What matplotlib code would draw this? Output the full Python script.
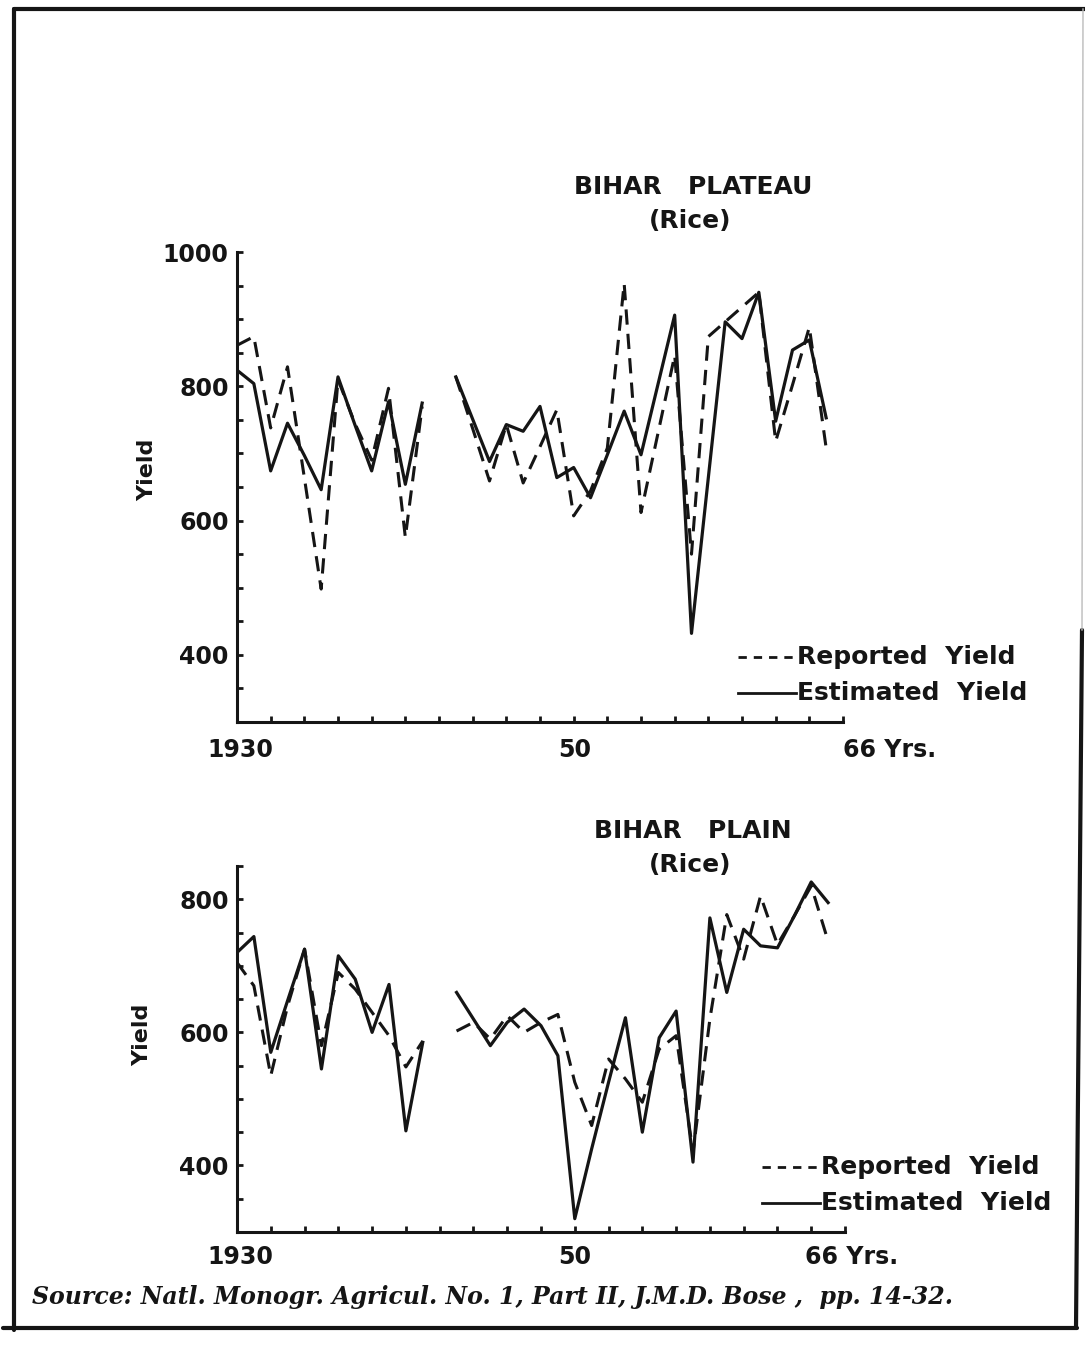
import numpy as np
import matplotlib
matplotlib.use('Agg')
import matplotlib.pyplot as plt
from matplotlib.lines import Line2D

# ---- data (yield, 1930-1965) ----
years = np.arange(1930, 1966)
nan = np.nan

plateau_reported = [861, 874, 738, 829, 664, 498, 810, 745, 690, 797, 575, 770, nan,
                    814, 737, 659, 743, 656, 710, 765, 607, 644, 708, 953, 612, 729,
                    846, 550, 874, 896, 918, 940, 718, 802, 888, 708]
plateau_estimated = [824, 804, 674, 745, 697, 646, 814, 743, 674, 777, 654, 775, nan,
                     814, 751, 688, 743, 733, 770, 664, 679, 634, 698, 763, 698, 802,
                     906, 432, 664, 896, 871, 940, 748, 854, 869, 753]

plain_reported = [705, 670, 535, 640, 725, 580, 690, 665, 630, 595, 548, 587, nan,
                  602, 615, 590, 625, 600, 615, 627, 525, 460, 560, 530, 495, 575,
                  595, 420, 620, 777, 710, 805, 732, 775, 820, 737]
plain_estimated = [720, 744, 570, 648, 725, 545, 715, 680, 600, 672, 452, 585, nan,
                   660, 620, 580, 615, 635, 610, 565, 320, 425, 525, 622, 450, 592,
                   632, 405, 772, 660, 755, 730, 727, 775, 826, 795]

W, H = 1085, 1347
INK = '#151515'
FONT = 'DejaVu Sans'


def fx(px):
    return px / W


def fy(py):
    return 1 - py / H


fig = plt.figure(figsize=(W / 100, H / 100), dpi=100)
fig.patch.set_facecolor('white')


def draw_panel(rect, reported, estimated, ylim, ylabels, title_y, legend_y, legend_x,
               lab_y, yrs_x, ylab_x, ylab_y, title):
    ax = fig.add_axes(rect)
    ax.plot(years, reported, color=INK, lw=2.2, linestyle=(0, (5, 3)))
    ax.plot(years, estimated, color=INK, lw=2.3)
    ax.set_xlim(1930, 1966)
    ax.set_ylim(*ylim)
    for s in ('top', 'right'):
        ax.spines[s].set_visible(False)
    for s in ('left', 'bottom'):
        ax.spines[s].set_linewidth(2.2)
        ax.spines[s].set_color(INK)
    ax.set_yticks(ylabels)
    ax.set_yticklabels([str(v) for v in ylabels], fontsize=17, fontweight='bold',
                       color=INK, family=FONT)
    ax.set_yticks(np.arange(ylim[0], ylim[1] + 1, 50), minor=True)
    ax.set_xticks(np.arange(1930, 1967, 2), minor=True)
    ax.set_xticks([])
    ax.tick_params(which='both', direction='in', length=4, width=2, color=INK, pad=6)

    # x labels
    fig.text(fx(240), fy(lab_y), '1930', ha='center', va='center', fontsize=17,
             fontweight='bold', color=INK, family=FONT)
    fig.text(fx(575), fy(lab_y), '50', ha='center', va='center', fontsize=17,
             fontweight='bold', color=INK, family=FONT)
    fig.text(fx(yrs_x), fy(lab_y), '66 Yrs.', ha='left', va='center', fontsize=17,
             fontweight='bold', color=INK, family=FONT)

    # y label
    fig.text(fx(ylab_x), fy(ylab_y), 'Yield', rotation=90, ha='center', va='center',
             fontsize=16, fontweight='bold', color=INK, family=FONT)

    # title
    fig.text(fx(693), fy(title_y), title, ha='center', va='center', fontsize=18,
             fontweight='bold', color=INK, family=FONT)
    fig.text(fx(690), fy(title_y + 34), '(Rice)', ha='center', va='center', fontsize=18,
             fontweight='bold', color=INK, family=FONT)

    # hand-drawn style legend
    x0, x1 = legend_x, legend_x + 58
    fig.add_artist(Line2D([fx(x0), fx(x1)], [fy(legend_y), fy(legend_y)], color=INK,
                          lw=2, linestyle=(0, (3, 2.5)), transform=fig.transFigure))
    fig.add_artist(Line2D([fx(x0), fx(x1)], [fy(legend_y + 36), fy(legend_y + 36)],
                          color=INK, lw=2, transform=fig.transFigure))
    fig.text(fx(x1 + 1), fy(legend_y), 'Reported  Yield', ha='left', va='center',
             fontsize=18, fontweight='bold', color=INK, family=FONT)
    fig.text(fx(x1 + 1), fy(legend_y + 36), 'Estimated  Yield', ha='left', va='center',
             fontsize=18, fontweight='bold', color=INK, family=FONT)
    return ax


# top panel: Bihar Plateau
draw_panel([fx(237), fy(722), fx(843) - fx(237), fy(252) - fy(722)],
           plateau_reported, plateau_estimated, (300, 1000), [400, 600, 800, 1000],
           title_y=187, legend_y=657, legend_x=738, lab_y=750, yrs_x=843,
           ylab_x=147, ylab_y=470, title='BIHAR   PLATEAU')

# bottom panel: Bihar Plain
draw_panel([fx(237), fy(1232), fx(845) - fx(237), fy(866) - fy(1232)],
           plain_reported, plain_estimated, (300, 850), [400, 600, 800],
           title_y=831, legend_y=1167, legend_x=762, lab_y=1257, yrs_x=805,
           ylab_x=142, ylab_y=1035, title='BIHAR   PLAIN')

# page frame of the scanned sheet
frame = dict(color=INK, lw=3, transform=fig.transFigure, solid_capstyle='round')
fig.add_artist(Line2D([fx(14), fx(1085)], [fy(9), fy(9)], **frame))
fig.add_artist(Line2D([fx(14), fx(14)], [fy(9), fy(1330)], **frame))
fig.add_artist(Line2D([fx(3), fx(1077)], [fy(1328), fy(1328)], **frame))
fig.add_artist(Line2D([fx(1082), fx(1076)], [fy(630), fy(1328)], **frame))
fig.add_artist(Line2D([fx(1083), fx(1082)], [fy(9), fy(630)], color='#bbbbbb', lw=1,
                      transform=fig.transFigure))

# source note
fig.text(fx(32), fy(1297), 'Source: Natl. Monogr. Agricul. No. 1, Part II, J.M.D. Bose ,  pp. 14-32.',
         ha='left', va='center', fontsize=17, fontweight='bold', fontstyle='italic',
         family='DejaVu Serif', color=INK)

fig.savefig('out.png', dpi=100, facecolor='white')
